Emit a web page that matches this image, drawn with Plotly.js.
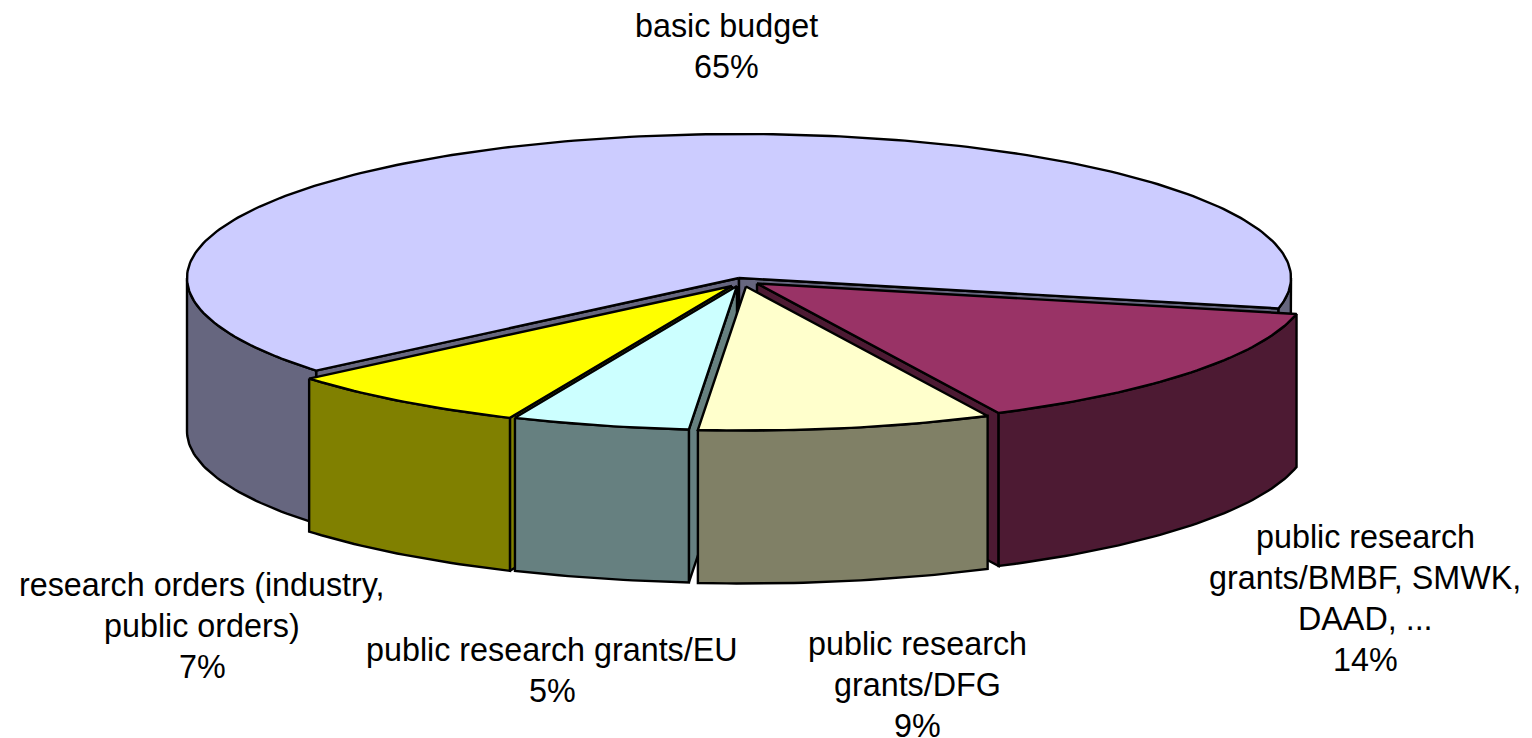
<!DOCTYPE html>
<html>
<head>
<meta charset="utf-8">
<script src="https://cdn.plot.ly/plotly-3.0.1.min.js"></script>
<style>html,body{margin:0;padding:0;background:#fff}#chart{width:1532px;height:738px}</style>
</head>
<body>
<div id="chart"></div>
<script>
// Data, clockwise from the first slice
const categories = ["basic budget", "public research grants/BMBF, SMWK, DAAD, ...", "public research grants/DFG", "public research grants/EU", "research orders (industry, public orders)"];
const shares = [64.5, 14.4, 8.6, 5.2, 7.3];
const percentLabels = ["65%", "14%", "9%", "5%", "7%"];
const labelLines = [
  ["basic budget"],
  ["public research", "grants/BMBF, SMWK,", "DAAD, ..."],
  ["public research", "grants/DFG"],
  ["public research grants/EU"],
  ["research orders (industry,", "public orders)"]
];
const topColors = ["#CCCCFF", "#993366", "#FFFFCC", "#CCFFFF", "#FFFF00"];
const wallColors = ["#66667F", "#4D1A33", "#808066", "#668080", "#808000"];

// 3D projection settings
const firstAngle = 220, rx = 552, ry = 144, depth = 153;
const apexX = [739, 757, 746, 737, 732];
const apexY = [278, 283.5, 286.5, 286, 286];
const labelX = [726, 1365, 917, 552, 202];
const labelTop = [26, 537, 644, 650, 585];
const linePitch = 41;
const drawOrder = [0, 1, 4, 3, 2];

const rad = d => d * Math.PI / 180;
const traces = [];
function poly(xs, ys, fill) {
  traces.push({type: "scatter", mode: "lines", x: xs, y: ys, fill: "toself", fillcolor: fill,
    line: {color: "#000", width: 2.4, shape: "linear"}, hoverinfo: "skip", showlegend: false});
}
function arc(i, a0, a1, dy) {
  const n = Math.max(2, Math.ceil(Math.abs(a1 - a0)));
  const xs = [], ys = [];
  for (let k = 0; k <= n; k++) {
    const a = a0 + (a1 - a0) * k / n;
    xs.push(apexX[i] + rx * Math.cos(rad(a)));
    ys.push(apexY[i] - ry * Math.sin(rad(a)) + dy);
  }
  return {xs, ys};
}
function wall(i, a0, a1) {
  const top = arc(i, a0, a1, 0), bot = arc(i, a1, a0, depth);
  poly(top.xs.concat(bot.xs, [top.xs[0]]), top.ys.concat(bot.ys, [top.ys[0]]), wallColors[i]);
}
function cut(i, a) {
  const x = apexX[i], y = apexY[i], ex = x + rx * Math.cos(rad(a)), ey = y - ry * Math.sin(rad(a));
  poly([x, ex, ex, x, x], [y, ey, ey + depth, y + depth, y], wallColors[i]);
}
let cursor = firstAngle;
const spans = shares.map(v => { const s = [cursor, cursor - v * 3.6]; cursor = s[1]; return s; });

drawOrder.forEach(i => {
  const [start, end] = spans[i];          // start > end, clockwise
  // cut faces that look at the viewer
  if (Math.sin(rad(start + 90)) < 0) cut(i, start);
  if (Math.sin(rad(end - 90)) < 0) cut(i, end);
  // outer wall: front half of the ellipse only
  [[-180, 0], [180, 360]].forEach(([lo, hi]) => {
    const a0 = Math.max(lo, end), a1 = Math.min(hi, start);
    if (a1 > a0) wall(i, a0, a1);
  });
  const a = arc(i, start, end, 0);
  poly([apexX[i]].concat(a.xs, [apexX[i]]), [apexY[i]].concat(a.ys, [apexY[i]]), topColors[i]);
});

const annotations = [];
categories.forEach((c, i) => {
  labelLines[i].concat(percentLabels[i]).forEach((line, k) => {
    annotations.push({
      x: labelX[i], y: labelTop[i] + k * linePitch, xref: "x", yref: "y", showarrow: false,
      xanchor: "center", yanchor: "middle", align: "center", text: line,
      font: {family: "Liberation Sans, Arial, sans-serif", size: 32.3, color: "#000"}
    });
  });
});

Plotly.newPlot("chart", traces, {
  width: 1532, height: 738, margin: {l: 0, r: 0, t: 0, b: 0}, paper_bgcolor: "#fff", plot_bgcolor: "#fff",
  showlegend: false, hovermode: false,
  xaxis: {range: [0, 1532], visible: false, fixedrange: true},
  yaxis: {range: [738, 0], visible: false, fixedrange: true},
  annotations
}, {displayModeBar: false, staticPlot: true});
</script>
</body>
</html>
